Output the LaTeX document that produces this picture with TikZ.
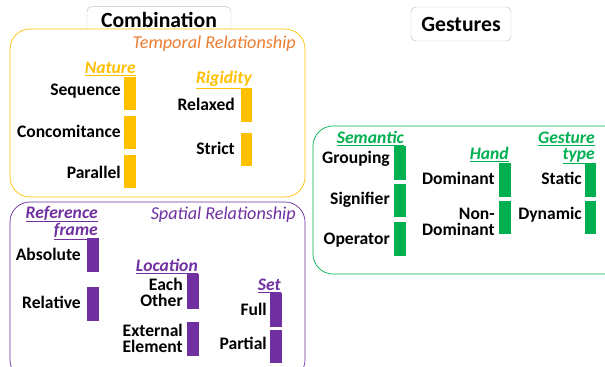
\documentclass[tikz,border=0pt]{standalone}
\usepackage{fontspec}
\setmainfont{Carlito}
\definecolor{tyellow}{HTML}{FFC000}
\definecolor{torange}{HTML}{ED7D31}
\definecolor{spurple}{HTML}{7030A0}
\definecolor{ggreen}{HTML}{00B050}

\begin{document}
\begin{tikzpicture}[x=0.3mm,y=-0.3mm,
  lbl/.style={anchor=east,align=right,inner sep=0pt,font=\fontsize{15}{13.5}\selectfont\bfseries},
  head/.style={anchor=east,align=right,inner sep=0pt,font=\fontsize{15}{13.5}\selectfont\bfseries\itshape},
  area/.style={anchor=east,inner sep=0pt,font=\fontsize{15.5}{15.5}\selectfont\itshape},
  title/.style={draw=black!25,rounded corners=4pt,inner sep=0pt,font=\fontsize{18.5}{18.5}\selectfont\bfseries},
  group/.style={rounded corners=6mm,fill=white,line width=0.6pt}]
\useasboundingbox (0,0) rectangle (605,366);

% titles
\node[title,minimum width=43.2mm,minimum height=8mm] (comb) at (159,20) {Combination};
\node[title,minimum width=30mm,minimum height=10.2mm] (gest) at (461,24) {Gestures};

% temporal relationship
\draw[group,draw=tyellow] (10,29) rectangle (305,197);
\node[area,text=torange] (temp) at (296,44) {Temporal Relationship};
\node[head,text=tyellow] (nature) at (136,69) {\underline{Nature}};
\fill[tyellow] (124,77) rectangle (136,110);
\fill[tyellow] (124,116) rectangle (136,149);
\fill[tyellow] (124,155) rectangle (136,188);
\node[lbl] (seq) at (121,91) {Sequence};
\node[lbl] (conc) at (121,131) {Concomitance};
\node[lbl] (par) at (121,172) {Parallel};
\node[head,text=tyellow] (rigid) at (252,80) {\underline{Rigidity}};
\fill[tyellow] (241,88) rectangle (252,122);
\fill[tyellow] (241,133) rectangle (252,166);
\node[lbl] (relax) at (235,104) {Relaxed};
\node[lbl] (strict) at (235,148) {Strict};

% spatial relationship
\draw[group,draw=spurple] (10,202) rectangle (305,380);
\node[area,text=spurple] (spat) at (296,215) {Spatial Relationship};
\node[head,text=spurple] (refframe) at (98,223) {\underline{Reference}\\\underline{frame}};
\fill[spurple] (87,238) rectangle (99,272);
\fill[spurple] (87,287) rectangle (99,321);
\node[lbl] (abs) at (81,254) {Absolute};
\node[lbl] (rel) at (81,302) {Relative};
\node[head,text=spurple] (loc) at (198,267) {\underline{Location}};
\fill[spurple] (187,274) rectangle (199,309);
\fill[spurple] (187,322) rectangle (199,356);
\node[lbl] (each) at (183,292) {Each\\Other};
\node[lbl] (ext) at (183,338) {External\\Element};
\node[head,text=spurple] (set) at (281,286) {\underline{Set}};
\fill[spurple] (270,293) rectangle (282,327);
\fill[spurple] (270,330) rectangle (282,363);
\node[lbl] (full) at (267,309) {Full};
\node[lbl] (part) at (267,343) {Partial};

% gestures
\draw[group,draw=ggreen] (313,126) rectangle (625,274);
\node[head,text=ggreen] (sem) at (404,139) {\underline{Semantic}};
\fill[ggreen] (394,146) rectangle (406,180);
\fill[ggreen] (394,184) rectangle (406,217);
\fill[ggreen] (394,222) rectangle (406,256);
\node[lbl] (grp) at (390,159) {Grouping};
\node[lbl] (sig) at (390,200) {Signifier};
\node[lbl] (op) at (390,240) {Operator};
\node[head,text=ggreen] (hand) at (509,155) {\underline{Hand}};
\fill[ggreen] (499,163) rectangle (511,197);
\fill[ggreen] (499,201) rectangle (511,234);
\node[lbl] (dom) at (495,178) {Dominant};
\node[lbl] (nondom) at (495,222) {Non-\\Dominant};
\node[head,text=ggreen] (gtype) at (595,148) {\underline{Gesture}\\\underline{type}};
\fill[ggreen] (585,163) rectangle (596,197);
\fill[ggreen] (585,201) rectangle (596,234);
\node[lbl] (stat) at (582,178) {Static};
\node[lbl] (dyn) at (582,215) {Dynamic};
\end{tikzpicture}
\end{document}
